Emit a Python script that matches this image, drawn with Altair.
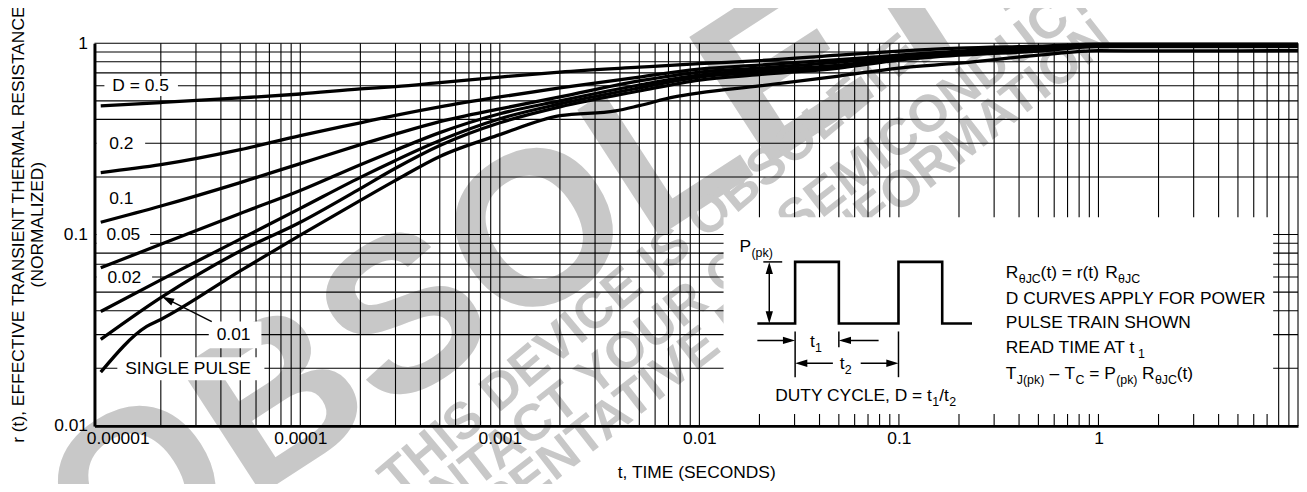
import altair as alt
import pandas as pd

# plot-area origin in page pixels and size
OX, OY = 95, 42
W, H = 1211, 385

FONT = "Liberation Sans, Arial, Helvetica, sans-serif"
WFONT = "Liberation Sans, Arial, Helvetica, sans-serif"
FS = 17.5     # main text size
SS = 12.5     # subscript size

# ---------------- data ----------------
t_pts = [1e-5, 2e-5, 5e-5, 1e-4, 2e-4, 3e-4, 5e-4, 1e-3, 2e-3, 5e-3, 1e-2,
         2e-2, 5e-2, 0.1, 0.2, 0.5, 1, 2, 5, 10]
r_d050 = [0.471, 0.490, 0.518, 0.543, 0.577, 0.594, 0.623, 0.666, 0.707, 0.750,
          0.782, 0.811, 0.866, 0.909, 0.942, 0.965, 0.988, 0.988, 0.988, 0.988]
r_d020 = [0.211, 0.232, 0.278, 0.329, 0.384, 0.420, 0.465, 0.524, 0.584, 0.666,
          0.733, 0.769, 0.821, 0.866, 0.909, 0.953, 0.982, 0.982, 0.982, 0.982]
r_d010 = [0.116, 0.141, 0.187, 0.235, 0.295, 0.335, 0.389, 0.454, 0.524, 0.635,
          0.707, 0.742, 0.797, 0.856, 0.898, 0.936, 0.976, 0.976, 0.976, 0.976]
r_d005 = [0.067, 0.089, 0.129, 0.170, 0.232, 0.276, 0.341, 0.428, 0.500, 0.605,
          0.682, 0.720, 0.769, 0.836, 0.887, 0.931, 0.971, 0.971, 0.971, 0.971]
r_d002 = [0.0396, 0.058, 0.0947, 0.137, 0.199, 0.244, 0.310, 0.403, 0.482, 0.584,
          0.666, 0.703, 0.750, 0.826, 0.877, 0.920, 0.965, 0.965, 0.965, 0.965]
r_d001 = [0.0283, 0.0468, 0.0821, 0.116, 0.174, 0.222, 0.292, 0.384, 0.465, 0.563,
          0.642, 0.686, 0.742, 0.816, 0.866, 0.909, 0.959, 0.959, 0.959, 0.959]
t_single = [1e-5, 1.7e-5, 2e-5, 5e-5, 1e-4, 2e-4, 3e-4, 5e-4, 1e-3, 2e-3, 3.8e-3,
            5e-3, 7.5e-3, 1e-2, 2e-2, 5e-2, 0.1, 0.2, 0.5, 1, 2, 5, 10]
r_single = [0.0191, 0.0331, 0.036, 0.0646, 0.0994, 0.151, 0.192, 0.256, 0.333, 0.418,
            0.443, 0.472, 0.524, 0.550, 0.598, 0.674, 0.742, 0.787, 0.866, 0.915,
            0.912, 0.912, 0.915]

series = [("D = 0.5", t_pts, r_d050), ("0.2", t_pts, r_d020), ("0.1", t_pts, r_d010),
          ("0.05", t_pts, r_d005), ("0.02", t_pts, r_d002), ("0.01", t_pts, r_d001),
          ("SINGLE PULSE", t_single, r_single)]

x_decades = [1e-5, 1e-4, 1e-3, 1e-2, 0.1, 1]
y_decades = [0.01, 0.1, 1]

rows = []
for name, ts, rs in series:
    for i, (t, r) in enumerate(zip(ts, rs)):
        rows.append({"series": name, "idx": i, "t": t, "r": r})
curves = pd.DataFrame(rows)

# log grid positions
t_grid = [m * 10.0 ** e for e in range(-5, 1) for m in range(1, 10)] + [10.0]
t_grid = [v for v in t_grid if v > 1.05e-5]
r_grid = [m * 10.0 ** e for e in (-2, -1) for m in range(1, 10)] + [1.0]

# ---------------- scales / axes ----------------
xs = alt.Scale(type="log", domain=[9.3e-6, 10], nice=False)
ys = alt.Scale(type="log", domain=[0.01, 1], nice=False)

X_AX = alt.Axis(values=x_decades, format=".5~f", grid=False, ticks=False,
                domainColor="black", domainWidth=3, labelFont=FONT, labelFontSize=FS,
                labelColor="black", labelPadding=4, labelFlush=False, labelOverlap=False,
                labelOffset={"condition": {"test": "datum.value < 2e-5", "value": 17}, "value": 0},
                titleFont=FONT, titleFontSize=FS, titleFontWeight="normal", titleColor="black",
                titleY=52, titleBaseline="alphabetic", zindex=1)
Y_AX = alt.Axis(values=y_decades, format=".2~f", grid=False, ticks=False,
                domainColor="black", domainWidth=3, labelFont=FONT, labelFontSize=FS,
                labelColor="black", labelPadding=7, labelOverlap=False,
                titleFont=FONT, titleFontSize=FS, titleFontWeight="normal", titleColor="black",
                titleAngle=270, titleX=-71, titleY=182, titleBaseline="alphabetic",
                titleAlign="center", titleLineHeight=19, zindex=1)
XT = "t, TIME (SECONDS)"
YT = ["r (t), EFFECTIVE TRANSIENT THERMAL RESISTANCE", "(NORMALIZED)"]

def X(f="t"):
    return alt.X(f"{f}:Q", scale=xs, axis=X_AX, title=XT)

def Y(f="r"):
    return alt.Y(f"{f}:Q", scale=ys, axis=Y_AX, title=YT)

# pixel helpers (annotation drawing, page pixel coordinates)
def pdf(records, cols):
    df = pd.DataFrame(records, columns=cols)
    for c in cols:
        if c in ("x", "x2"):
            df[c] = df[c] - OX
        if c in ("y", "y2"):
            df[c] = df[c] - OY
    return df

PX = lambda c="x": alt.X(f"{c}:Q", scale=None, axis=None)
PY = lambda c="y": alt.Y(f"{c}:Q", scale=None, axis=None)

# ---------------- watermark ----------------
wm_big = pdf([("OBSOLETE", 579, 212, 220, 327)], ["txt", "x", "y", "s", "a"])
wm_big_layer = alt.Chart(wm_big).mark_text(font=WFONT, fontWeight="bold", color="#c8c8c8",
                                           align="center", baseline="middle").encode(
    x=PX(), y=PY(), text="txt:N", size=alt.Size("s:Q", scale=None),
    angle=alt.Angle("a:Q", scale=None))
wm_small = pdf([("THIS DEVICE IS OBSOLETE", 918, 44, 52, 320),
                ("CONTACT YOUR ON SEMICONDUCTOR", 1155, -58, 52, 322),
                ("REPRESENTATIVE FOR INFORMATION", 1112, 30, 52, 322)],
               ["txt", "x", "y", "s", "a"])
wm_small_layer = alt.Chart(wm_small).mark_text(font=WFONT, fontWeight="bold", color="#c8c8c8",
                                               align="right", baseline="middle").encode(
    x=PX(), y=PY(), text="txt:N", size=alt.Size("s:Q", scale=None),
    angle=alt.Angle("a:Q", scale=None))

# ---------------- grid ----------------
vgrid = alt.Chart(pd.DataFrame({"t": t_grid})).mark_rule(color="black", strokeWidth=1.1).encode(x=X())
hgrid = alt.Chart(pd.DataFrame({"r": r_grid})).mark_rule(color="black", strokeWidth=1.1).encode(y=Y())

# white boxes behind curve labels and the inset
boxes = pdf([(105, 179, 75, 95), (97, 146, 133, 153), (97, 151, 225, 245),
             (97, 153, 267, 287), (210, 263, 322, 349), (118, 266, 358, 381),
             (728, 1281, 217, 415)],
            ["x", "x2", "y", "y2"])
box_layer = alt.Chart(boxes).mark_rect(color="white").encode(
    x=PX(), x2="x2:Q", y=PY(), y2="y2:Q")

# ---------------- curves ----------------
curve_layer = alt.Chart(curves).mark_line(color="black", strokeWidth=3.3,
                                          interpolate="monotone").encode(
    x=X(), y=Y(), detail="series:N", order="idx:Q")

# curve labels
labels = pdf([("D = 0.5", 113, 85.5), ("0.2", 110, 143.4), ("0.1", 110, 198.5),
              ("0.05", 107, 235.3), ("0.02", 108, 278), ("0.01", 218, 336),
              ("SINGLE PULSE", 126, 370.2)], ["txt", "x", "y"])
label_layer = alt.Chart(labels).mark_text(font=FONT, fontSize=FS, color="black",
                                          align="left", baseline="middle").encode(
    x=PX(), y=PY(), text="txt:N")

# ---------------- line segments (pointer + inset) ----------------
segs = pdf([(213, 322, 167, 299, 1.4),
            (768, 262, 787, 262, 1.5), (774, 266, 774, 320, 1.5),
            (762, 341, 796, 341, 1.5), (800, 332, 800, 378, 1.5), (844, 332, 844, 348, 1.5),
            (884, 341, 848, 341, 1.5), (904, 332, 904, 378, 1.5),
            (804, 364, 838, 364, 1.5), (866, 364, 900, 364, 1.5)],
           ["x", "y", "x2", "y2", "w"])
seg_layer = alt.Chart(segs).mark_rule(color="black").encode(
    x=PX(), y=PY(), x2="x2:Q", y2="y2:Q", strokeWidth=alt.StrokeWidth("w:Q", scale=None))

wave = pdf([(i, x, y) for i, (x, y) in enumerate(
    [(762, 324), (800, 324), (800, 262), (844, 262), (844, 324), (904, 324),
     (904, 262), (948, 262), (948, 324), (978, 324)])], ["i", "x", "y"])
wave_layer = alt.Chart(wave).mark_line(color="black", strokeWidth=2.6,
                                       strokeJoin="miter").encode(
    x=PX(), y=PY(), order="i:Q")

ARROW = "M0,0 L-2,-0.6 L-2,0.6 Z"
heads = pdf([(163, 297, 206.6), (774, 262, 270), (774, 324, 90), (800, 341, 0),
             (844, 341, 180), (800, 364, 180), (904, 364, 0)], ["x", "y", "a"])
head_layer = alt.Chart(heads).mark_point(shape=ARROW, filled=True, size=150,
                                         color="black", opacity=1, strokeWidth=0).encode(
    x=PX(), y=PY(), angle=alt.Angle("a:Q", scale=None))

inset_txt = pdf([
    ("P", 744, 252, FS), ("(pk)", 756, 257, SS),
    ("t", 815, 348, FS), ("1", 820, 353, SS),
    ("t", 845, 370, FS), ("2", 850, 375, SS),
    ("DUTY CYCLE, D = t", 780, 402, FS), ("1", 938, 407, SS), ("/t", 945, 402, FS),
    ("2", 955, 407, SS),
    ("R", 1012, 278, FS), ("θJC", 1025, 283, SS), ("(t) = r(t)", 1047, 278, FS),
    ("R", 1112, 278, FS), ("θJC", 1125, 283, SS),
    ("D CURVES APPLY FOR POWER", 1012, 304, FS),
    ("PULSE TRAIN SHOWN", 1012, 329, FS),
    ("READ TIME AT t", 1012, 354, FS), ("1", 1145, 359, SS),
    ("T", 1012, 380, FS), ("J(pk)", 1023, 385, SS), ("–", 1056, 380, FS),
    ("T", 1071, 380, FS), ("C", 1082, 385, SS), ("=", 1096, 380, FS),
    ("P", 1111, 380, FS), ("(pk)", 1123, 385, SS), ("R", 1149, 380, FS),
    ("θJC", 1162, 385, SS), ("(t)", 1184, 380, FS)], ["txt", "x", "y", "s"])
inset_layer = alt.Chart(inset_txt).mark_text(font=FONT, color="black", align="left",
                                             baseline="alphabetic").encode(
    x=PX(), y=PY(), text="txt:N", size=alt.Size("s:Q", scale=None))

chart = alt.layer(
    wm_big_layer, wm_small_layer, vgrid, hgrid, box_layer, curve_layer, label_layer,
    seg_layer, wave_layer, head_layer, inset_layer
).properties(
    width=W, height=H,
    padding={"left": OX - 8, "top": OY - 8, "right": 1, "bottom": 57},
    autosize=alt.AutoSizeParams(type="none"),
    background="white",
).configure_view(stroke=None)

chart.save("out.html", embed_options={"renderer": "svg", "actions": False})
